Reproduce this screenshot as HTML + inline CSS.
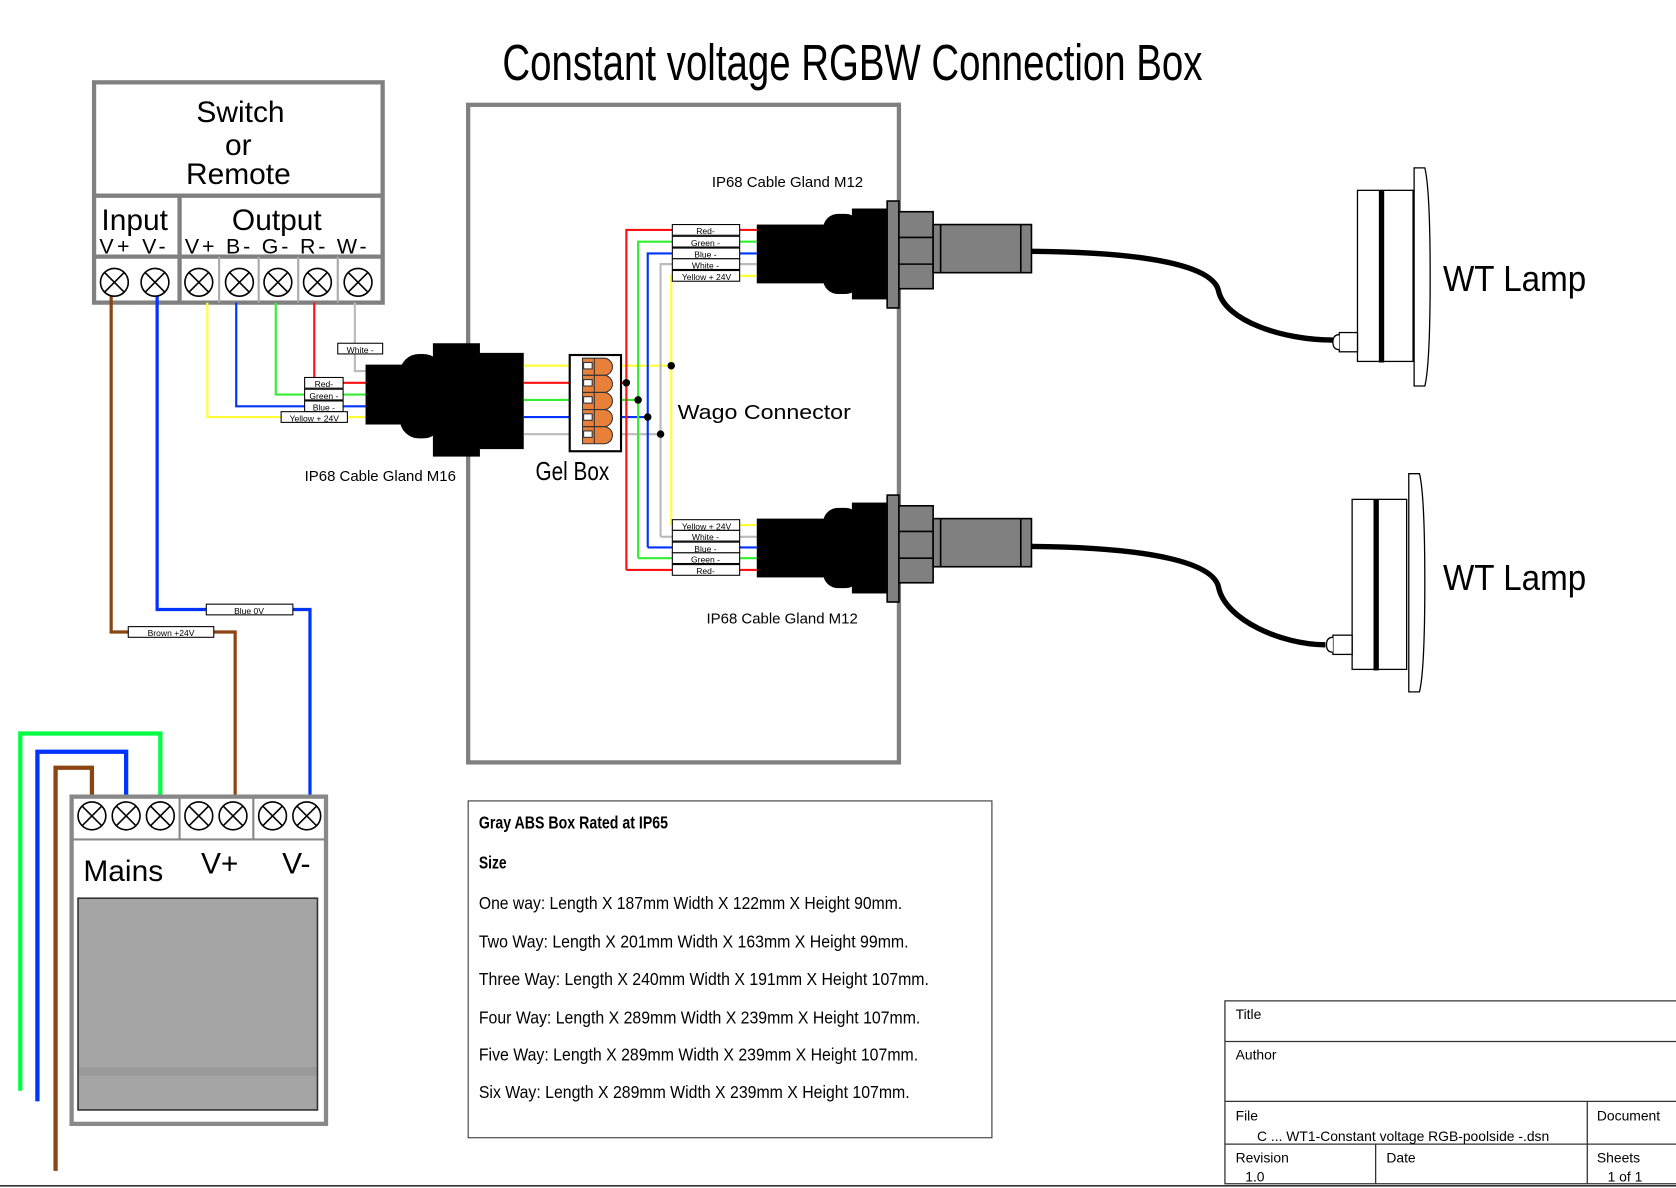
<!DOCTYPE html>
<html><head><meta charset="utf-8"><style>html,body{margin:0;padding:0;background:#fff}svg{display:block}</style></head><body>
<svg width="1676" height="1188" viewBox="0 0 1568 1111" preserveAspectRatio="none" xmlns="http://www.w3.org/2000/svg" font-family="Liberation Sans, sans-serif">
<rect width="1568" height="1111" fill="#fff"/>
<defs><g id="term"><circle cx="0" cy="0" r="13" fill="#fff" stroke="#000" stroke-width="1.5"/><path d="M-9,-9 L9,9 M9,-9 L-9,9" stroke="#000" stroke-width="1.5"/></g></defs>
<text x="470" y="75" font-size="48" textLength="655" lengthAdjust="spacingAndGlyphs">Constant voltage RGBW Connection Box</text>

<rect x="438" y="98" width="403" height="615" fill="none" stroke="#808080" stroke-width="4"/>

<g stroke="#808080" stroke-width="4" fill="none">
<rect x="88" y="77" width="270" height="206"/>
<line x1="88" y1="183" x2="358" y2="183"/>
<line x1="88" y1="240" x2="358" y2="240"/>
<line x1="168" y1="183" x2="168" y2="283"/>
</g>
<g stroke="#aaa" stroke-width="2"><line x1="205" y1="240" x2="205" y2="283"/><line x1="242" y1="240" x2="242" y2="283"/><line x1="279" y1="240" x2="279" y2="283"/><line x1="316" y1="240" x2="316" y2="283"/></g>
<g font-size="28" text-anchor="middle"><text x="225" y="114">Switch</text><text x="223" y="145">or</text><text x="223" y="172">Remote</text><text x="126" y="215">Input</text><text x="259" y="215">Output</text></g>
<text x="93" y="237" font-size="20" textLength="62" lengthAdjust="spacing">V+ V-</text>
<text x="173" y="237" font-size="20" textLength="170" lengthAdjust="spacing">V+ B- G- R- W-</text>

<g fill="none" stroke-width="3">
<polyline points="104,270 104,591 220,591 220,760" stroke="#8B4513"/>
<polyline points="147,270 147,570 290,570 290,760" stroke="#0033ff"/>
</g>
<g fill="none" stroke-width="2">
<polyline points="194,283 194,390 342,390" stroke="#ffff33"/>
<polyline points="221,283 221,380 342,380" stroke="#0033ff"/>
<polyline points="258,283 258,369 342,369" stroke="#33ee33"/>
<polyline points="294,283 294,358 342,358" stroke="#ff1111"/>
<polyline points="332,283 332,347 342,347" stroke="#bbb"/>
</g>
<g fill="#fff" stroke="#000" stroke-width="1">
<rect x="120" y="586" width="80" height="10"/><rect x="193" y="565" width="81" height="10"/>
<rect x="316" y="321" width="42" height="10"/>
<rect x="285" y="353" width="36" height="10"/><rect x="285" y="364" width="36" height="10"/><rect x="285" y="375" width="36" height="10"/><rect x="263" y="385" width="62" height="10"/>
</g>
<g font-size="8" text-anchor="middle"><text x="160" y="595">Brown +24V</text><text x="233" y="574">Blue 0V</text><text x="337" y="330">White -</text>
<text x="303" y="362">Red-</text><text x="303" y="373">Green -</text><text x="303" y="384">Blue -</text><text x="294" y="394">Yellow + 24V</text></g>

<use href="#term" x="107" y="264"/><use href="#term" x="145" y="264"/><use href="#term" x="186" y="264"/><use href="#term" x="224" y="264"/><use href="#term" x="260" y="264"/><use href="#term" x="297" y="264"/><use href="#term" x="335" y="264"/>

<g fill="#000">
<rect x="342" y="341" width="40" height="56"/>
<rect x="374" y="331" width="40" height="79" rx="18"/>
<rect x="405" y="321" width="44" height="106"/>
<rect x="445" y="330" width="45" height="90"/>
</g>
<text x="285" y="450" font-size="14">IP68 Cable Gland M16</text>

<g stroke-width="2" fill="none">
<line x1="490" y1="342" x2="628" y2="342" stroke="#ffff33"/>
<line x1="490" y1="358" x2="586" y2="358" stroke="#ff1111"/>
<line x1="490" y1="374" x2="597" y2="374" stroke="#33ee33"/>
<line x1="490" y1="390" x2="606" y2="390" stroke="#0033ff"/>
<line x1="490" y1="406" x2="618" y2="406" stroke="#bbb"/>
<polyline points="586,533 586,215 629,215" stroke="#ff1111"/>
<polyline points="597,522 597,226 629,226" stroke="#33ee33"/>
<polyline points="606,512 606,237 629,237" stroke="#0033ff"/>
<polyline points="618,502 618,247 629,247" stroke="#bbb"/>
<polyline points="628,491 628,258 629,258" stroke="#ffff33"/>
<line x1="586" y1="533" x2="629" y2="533" stroke="#ff1111"/>
<line x1="597" y1="522" x2="629" y2="522" stroke="#33ee33"/>
<line x1="606" y1="512" x2="629" y2="512" stroke="#0033ff"/>
<line x1="618" y1="502" x2="629" y2="502" stroke="#bbb"/>
<line x1="692" y1="215" x2="708" y2="215" stroke="#ff1111"/><line x1="692" y1="226" x2="708" y2="226" stroke="#33ee33"/><line x1="692" y1="237" x2="708" y2="237" stroke="#0033ff"/><line x1="692" y1="247" x2="708" y2="247" stroke="#bbb"/><line x1="692" y1="258" x2="708" y2="258" stroke="#ffff33"/>
<line x1="692" y1="491" x2="708" y2="491" stroke="#ffff33"/><line x1="692" y1="502" x2="708" y2="502" stroke="#bbb"/><line x1="692" y1="512" x2="708" y2="512" stroke="#0033ff"/><line x1="692" y1="522" x2="708" y2="522" stroke="#33ee33"/><line x1="692" y1="533" x2="708" y2="533" stroke="#ff1111"/>
</g>
<rect x="533" y="332" width="48" height="90" fill="#fff" stroke="#000" stroke-width="2"/>
<g stroke="#333" stroke-width="1" fill="#e8803a">
<path d="M545,335 h20 a8,8 0 0 1 0,16 h-20z"/><path d="M545,351 h20 a8,8 0 0 1 0,16 h-20z"/><path d="M545,367 h20 a8,8 0 0 1 0,16 h-20z"/><path d="M545,383 h20 a8,8 0 0 1 0,16 h-20z"/><path d="M545,399 h20 a8,8 0 0 1 0,16 h-20z"/>
<line x1="556" y1="335" x2="556" y2="415"/>
</g>
<g fill="#fff" stroke="#333" stroke-width="1"><rect x="546" y="339" width="8" height="6"/><rect x="546" y="355" width="8" height="6"/><rect x="546" y="371" width="8" height="6"/><rect x="546" y="387" width="8" height="6"/><rect x="546" y="403" width="8" height="6"/></g>
<g fill="#000"><circle cx="628" cy="342" r="3.5"/><circle cx="586" cy="358" r="3.5"/><circle cx="597" cy="374" r="3.5"/><circle cx="606" cy="390" r="3.5"/><circle cx="618" cy="406" r="3.5"/></g>
<text x="634" y="392" font-size="19" textLength="162" lengthAdjust="spacingAndGlyphs">Wago Connector</text>
<text x="501" y="449" font-size="24" textLength="69" lengthAdjust="spacingAndGlyphs">Gel Box</text>

<g fill="#fff" stroke="#000" stroke-width="1">
<rect x="629" y="210" width="63" height="10"/><rect x="629" y="221" width="63" height="10"/><rect x="629" y="232" width="63" height="10"/><rect x="629" y="242" width="63" height="10"/><rect x="629" y="253" width="63" height="10"/>
<rect x="629" y="486" width="63" height="10"/><rect x="629" y="496" width="63" height="10"/><rect x="629" y="507" width="63" height="10"/><rect x="629" y="517" width="63" height="10"/><rect x="629" y="528" width="63" height="10"/>
</g>
<g font-size="8" text-anchor="middle">
<text x="660" y="219">Red-</text><text x="660" y="230">Green -</text><text x="660" y="241">Blue -</text><text x="660" y="251">White -</text><text x="661" y="262">Yellow + 24V</text>
<text x="661" y="495">Yellow + 24V</text><text x="660" y="505">White -</text><text x="660" y="516">Blue -</text><text x="660" y="526">Green -</text><text x="660" y="537">Red-</text>
</g>
<text x="666" y="175" font-size="14">IP68 Cable Gland M12</text>
<text x="661" y="583" font-size="14">IP68 Cable Gland M12</text>

<defs><g id="gl">
<rect x="708" y="-27" width="70" height="55" fill="#000"/>
<rect x="770" y="-37" width="35" height="75" rx="14" fill="#000"/>
<rect x="797" y="-42" width="33" height="85" fill="#000"/>
<rect x="830" y="-49" width="11" height="100" fill="#808080" stroke="#000" stroke-width="1.5"/>
<rect x="841" y="-39" width="32" height="72" fill="#808080" stroke="#000" stroke-width="1.5"/>
<line x1="841" y1="-15" x2="873" y2="-15" stroke="#000" stroke-width="1.5"/><line x1="841" y1="10" x2="873" y2="10" stroke="#000" stroke-width="1.5"/>
<rect x="873" y="-27" width="92" height="45" fill="#808080" stroke="#000" stroke-width="1.5"/>
<line x1="880" y1="-27" x2="880" y2="18" stroke="#000" stroke-width="1.5"/><line x1="955" y1="-27" x2="955" y2="18" stroke="#000" stroke-width="1.5"/>
</g></defs>
<use href="#gl" x="0" y="237"/>
<use href="#gl" x="0" y="512"/>

<path d="M965,235 C1080,236 1135,250 1140,272 C1146,300 1200,318 1247,318" fill="none" stroke="#000" stroke-width="5"/>
<path d="M965,511 C1080,512 1135,527 1140,549 C1146,580 1200,603 1240,603" fill="none" stroke="#000" stroke-width="5"/>

<g fill="#fff" stroke="#000" stroke-width="1.2">
<path d="M1323,157 h10 q5,20 5,102 q0,82 -5,102 h-10z"/>
<rect x="1270" y="178" width="52" height="160"/>
<rect x="1253" y="311" width="17" height="18"/><path d="M1253,313 q-6,0 -6,7 q0,7 6,7"/>
<path d="M1318,443 h10 q5,20 5,102 q0,82 -5,102 h-10z"/>
<rect x="1265" y="467" width="51" height="159"/>
<rect x="1247" y="594" width="18" height="18"/><path d="M1247,596 q-6,0 -6,7 q0,7 6,7"/>
</g>
<rect x="1290" y="178" width="5" height="161" fill="#000"/>
<rect x="1285" y="467" width="5" height="160" fill="#000"/>
<text x="1350" y="272" font-size="34" textLength="134" lengthAdjust="spacingAndGlyphs">WT Lamp</text>
<text x="1350" y="552" font-size="34" textLength="134" lengthAdjust="spacingAndGlyphs">WT Lamp</text>

<g fill="none" stroke-width="4">
<polyline points="150,745 150,686 19,686 19,1020" stroke="#00ff44"/>
<polyline points="118,745 118,703 35,703 35,1030" stroke="#0033ff"/>
<polyline points="86,750 86,718 52,718 52,1095" stroke="#8B4513"/>
</g>
<rect x="67" y="745" width="238" height="306" fill="#fff" stroke="#888" stroke-width="4"/>
<line x1="67" y1="785" x2="305" y2="785" stroke="#888" stroke-width="2"/>
<line x1="168" y1="745" x2="168" y2="785" stroke="#888" stroke-width="2"/><line x1="237" y1="745" x2="237" y2="785" stroke="#888" stroke-width="2"/>
<use href="#term" x="86" y="763"/><use href="#term" x="118" y="763"/><use href="#term" x="150" y="763"/><use href="#term" x="186" y="763"/><use href="#term" x="218" y="763"/><use href="#term" x="255" y="763"/><use href="#term" x="287" y="763"/>
<text x="78" y="824" font-size="28">Mains</text><text x="188" y="817" font-size="28">V+</text><text x="264" y="817" font-size="28">V-</text>
<rect x="73" y="840" width="224" height="198" fill="#a5a5a5" stroke="#333" stroke-width="1.5"/>
<rect x="74" y="998" width="222" height="8" fill="#999"/>

<rect x="438" y="749" width="490" height="315" fill="#fff" stroke="#333" stroke-width="1"/>
<g font-family="Liberation Sans Narrow, Liberation Sans, sans-serif" font-size="16">
<text x="448" y="775" font-weight="bold" textLength="177" lengthAdjust="spacingAndGlyphs">Gray ABS Box Rated at IP65</text>
<text x="448" y="812" font-weight="bold" textLength="26" lengthAdjust="spacingAndGlyphs">Size</text>
<text x="448" y="850" textLength="396" lengthAdjust="spacingAndGlyphs">One way: Length X 187mm Width X 122mm X Height 90mm.</text>
<text x="448" y="886" textLength="402" lengthAdjust="spacingAndGlyphs">Two Way: Length X 201mm Width X 163mm X Height 99mm.</text>
<text x="448" y="921" textLength="421" lengthAdjust="spacingAndGlyphs">Three Way: Length X 240mm Width X 191mm X Height 107mm.</text>
<text x="448" y="957" textLength="413" lengthAdjust="spacingAndGlyphs">Four Way: Length X 289mm Width X 239mm X Height 107mm.</text>
<text x="448" y="992" textLength="411" lengthAdjust="spacingAndGlyphs">Five Way: Length X 289mm Width X 239mm X Height 107mm.</text>
<text x="448" y="1027" textLength="403" lengthAdjust="spacingAndGlyphs">Six Way: Length X 289mm Width X 239mm X Height 107mm.</text>
</g>

<g stroke="#333" stroke-width="1.2" fill="none">
<polyline points="1568,936 1146,936 1146,1107 1568,1107"/>
<line x1="1146" y1="974" x2="1568" y2="974"/>
<line x1="1146" y1="1030" x2="1568" y2="1030"/>
<line x1="1146" y1="1070" x2="1568" y2="1070"/>
<line x1="1287" y1="1070" x2="1287" y2="1107"/>
<line x1="1485" y1="1030" x2="1485" y2="1107"/>
</g>
<line x1="0" y1="1109" x2="1568" y2="1109" stroke="#333" stroke-width="1.5"/>
<g font-size="13">
<text x="1156" y="953">Title</text><text x="1156" y="991">Author</text><text x="1156" y="1048">File</text>
<text x="1176" y="1067">C ... WT1-Constant voltage RGB-poolside -.dsn</text>
<text x="1494" y="1048">Document</text><text x="1156" y="1087">Revision</text><text x="1165" y="1105">1.0</text>
<text x="1297" y="1087">Date</text><text x="1494" y="1087">Sheets</text><text x="1504" y="1105">1 of 1</text>
</g>
</svg>
</body></html>
